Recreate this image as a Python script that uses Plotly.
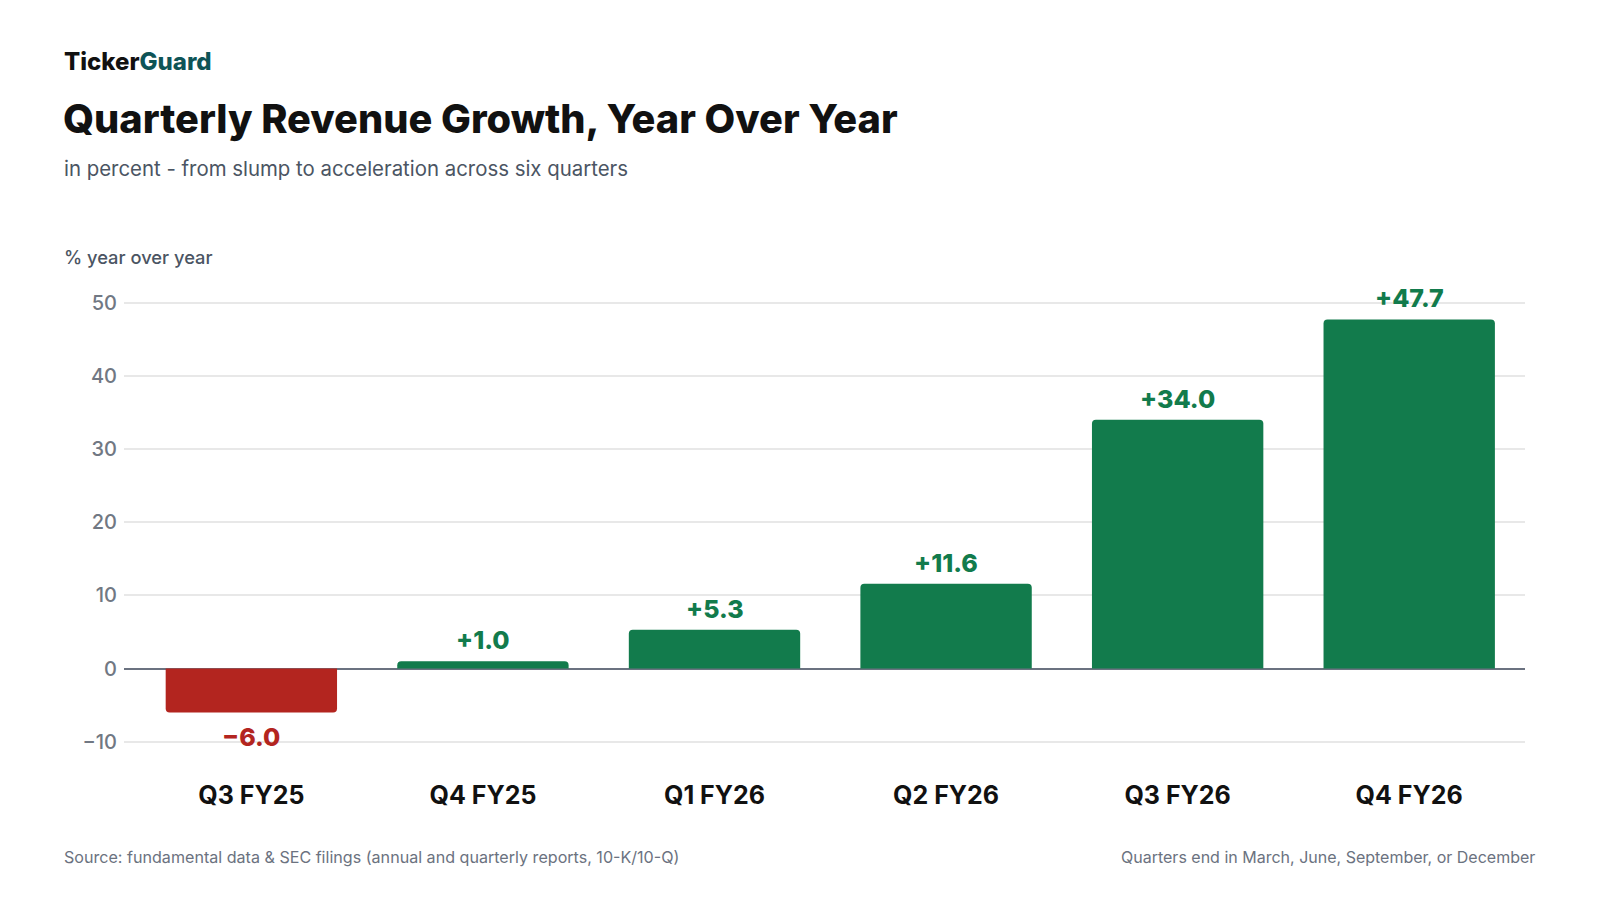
import plotly.graph_objects as go

# data
quarters = ["Q3 FY25", "Q4 FY25", "Q1 FY26", "Q2 FY26", "Q3 FY26", "Q4 FY26"]
growth = [-6.0, 1.0, 5.3, 11.6, 34.0, 47.7]
y_ticks = [-10, 0, 10, 20, 30, 40, 50]

GREEN = "#127B4C"
RED = "#B3251F"
FONT = "Inter"

W, H = 1600, 900
OFF = 8  # page body margin
L, R, T, B = 116, 83, 280, 148


def px_x(px):
    return (px - OFF - L) / (W - L - R)


def px_y(py):
    return (H - B - (py - OFF)) / (H - T - B)


colors = [GREEN if v >= 0 else RED for v in growth]
labels = [f"+{v:.1f}" if v >= 0 else f"\u2212{abs(v):.1f}" for v in growth]

fig = go.Figure()
fig.add_trace(go.Bar(
    x=quarters,
    y=growth,
    marker=dict(color=colors, line=dict(width=0), cornerradius=4),
    hoverinfo="skip",
))

# value labels above / below each bar
for q, v, lab, c in zip(quarters, growth, labels, colors):
    fig.add_annotation(
        x=q, y=v, text=lab, showarrow=False,
        yanchor="bottom" if v >= 0 else "top",
        yshift=4 if v >= 0 else -8,
        font=dict(family=FONT, size=25, color=c, weight=800),
    )

fig.update_layout(
    width=W, height=H,
    margin=dict(l=L, r=R, t=T, b=B),
    paper_bgcolor="white",
    plot_bgcolor="white",
    showlegend=False,
    bargap=0.26,
    font=dict(family=FONT),
    xaxis=dict(
        range=[-0.55, 5.5],
        showgrid=False,
        showline=False,
        ticks="",
        tickfont=dict(family=FONT, size=25, color="#111111", weight=700),
        ticklabelstandoff=18,
    ),
    yaxis=dict(
        range=[-12.5, 52],
        tickvals=y_ticks,
        showgrid=True,
        gridcolor="#E8E8E8",
        gridwidth=1.5,
        zeroline=True,
        zerolinecolor="#6B7280",
        zerolinewidth=2,
        showline=False,
        ticks="",
        tickfont=dict(family=FONT, size=20, color="#717883", weight=500),
        ticklabelstandoff=6,
    ),
)

# header
fig.add_annotation(
    xref="paper", yref="paper", x=px_x(62), y=px_y(62),
    xanchor="left", yanchor="middle", showarrow=False,
    text="Ticker<span style='color:#0E5457'>Guard</span>",
    font=dict(family=FONT, size=24, color="#111111", weight=800),
)
fig.add_annotation(
    xref="paper", yref="paper", x=px_x(61), y=px_y(118),
    xanchor="left", yanchor="middle", showarrow=False,
    text="Quarterly Revenue Growth, Year Over Year",
    font=dict(family=FONT, size=39.75, color="#111111", weight=800),
)
fig.add_annotation(
    xref="paper", yref="paper", x=px_x(62), y=px_y(168),
    xanchor="left", yanchor="middle", showarrow=False,
    text="in percent - from slump to acceleration across six quarters",
    font=dict(family=FONT, size=20.4, color="#4B5563"),
)
fig.add_annotation(
    xref="paper", yref="paper", x=px_x(62), y=px_y(257),
    xanchor="left", yanchor="middle", showarrow=False,
    text="% year over year",
    font=dict(family=FONT, size=18.3, color="#4B5563", weight=500),
)

# footer
fig.add_annotation(
    xref="paper", yref="paper", x=px_x(62), y=px_y(857),
    xanchor="left", yanchor="middle", showarrow=False,
    text="Source: fundamental data & SEC filings (annual and quarterly reports, 10-K/10-Q)",
    font=dict(family=FONT, size=16.1, color="#6B7280"),
)
fig.add_annotation(
    xref="paper", yref="paper", x=px_x(1537), y=px_y(857),
    xanchor="right", yanchor="middle", showarrow=False,
    text="Quarters end in March, June, September, or December",
    font=dict(family=FONT, size=16, color="#6B7280"),
)

fig.write_html("out.html")
